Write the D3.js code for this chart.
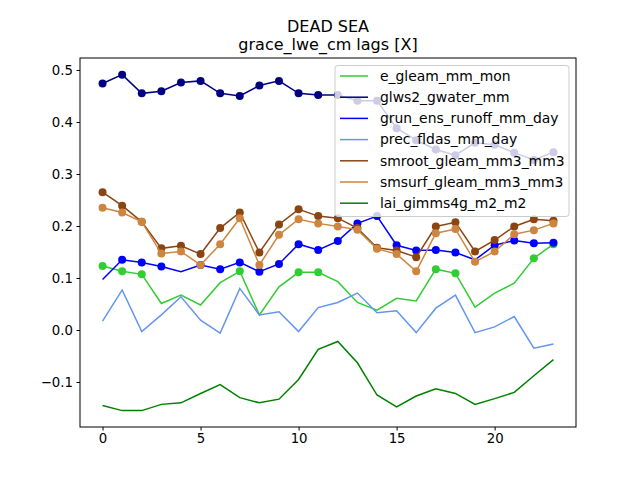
<!DOCTYPE html>
<html><head><meta charset="utf-8">
<script src="https://cdn.jsdelivr.net/npm/d3@7"></script>
<style>body{margin:0;background:#fff}text{font-family:"DejaVu Sans",sans-serif}</style>
</head><body><svg id="c" width="640" height="480"></svg>
<script>
const lags = d3.range(24);
const seriesNames = ["e_gleam_mm_mon","glws2_gwater_mm","grun_ens_runoff_mm_day","prec_fldas_mm_day","smroot_gleam_mm3_mm3","smsurf_gleam_mm3_mm3","lai_gimms4g_m2_m2"];
const colors = ["#32cd32","#000080","#0000ff","#6495ed","#8b4513","#cd853f","#008000"];
const eGleam = [.123,.113,.107,.051,.067,.048,.091,.113,.029,.083,.111,.111,.093,.053,.038,.061,.056,.117,.109,.044,.071,.090,.138,.165];
const glws2 = [.474,.491,.455,.459,.476,.479,.455,.450,.470,.479,.455,.452,.452,.441,.441,.388,.365,.347,.336,.360,.356,.341,.327,.342];
const grun = [.097,.135,.130,.122,.112,.125,.117,.130,.112,.127,.165,.154,.171,.205,.219,.163,.153,.154,.149,.135,.163,.172,.167,.168];
const prec = [.017,.077,-.003,.029,.064,.019,-.006,.080,.029,.035,-.003,.043,.053,.071,.033,.037,-.005,.042,.067,-.005,.006,.026,-.035,-.027];
const smroot = [.265,.239,.208,.157,.162,.146,.196,.226,.149,.203,.232,.219,.215,.196,.158,.153,.140,.199,.207,.151,.173,.199,.213,.210];
const smsurf = [.235,.226,.208,.147,.151,.125,.165,.215,.125,.183,.213,.205,.199,.193,.156,.146,.113,.186,.194,.131,.151,.184,.192,.205];
const lai = [-.145,-.155,-.155,-.143,-.140,-.122,-.105,-.130,-.140,-.133,-.095,-.037,-.022,-.063,-.125,-.148,-.127,-.113,-.122,-.143,-.132,-.120,-.088,-.057];
const eGleamDots = [0,1,2,7,10,11,17,18,22,23];
const glws2Dots = lags;
const grunDots = [1,2,3,5,6,7,8,9,10,11,12,13,14,15,16,17,18,20,21,22,23];
const precDots = [];
const smrootDots = lags;
const smsurfDots = lags;
const laiDots = [];
const allVals = [eGleam,glws2,grun,prec,smroot,smsurf,lai];
const allDots = [eGleamDots,glws2Dots,grunDots,precDots,smrootDots,smsurfDots,laiDots];
const xTicks = [0,5,10,15,20];
const yTicks = [-0.1,0.0,0.1,0.2,0.3,0.4,0.5];

const svg = d3.select("#c");
const L=80,R=576,T=58,B=427;
const x = d3.scaleLinear().domain([-1.15,24.15]).range([L,R]);
const y = d3.scaleLinear().domain([-0.1865,0.523]).range([B,T]);
const g = svg.append("g");
const line = d3.line().x((d,i)=>x(lags[i])).y(d=>y(d));
allVals.forEach((vals,k)=>{
  g.append("path").attr("d",line(vals)).attr("fill","none").attr("stroke",colors[k]).attr("stroke-width",1.5);
  g.selectAll(null).data(allDots[k]).enter().append("circle")
    .attr("cx",d=>x(d)).attr("cy",d=>y(vals[d])).attr("r",4).attr("fill",colors[k]);
});
const xa = svg.append("g").attr("transform",`translate(0,${B})`).call(d3.axisBottom(x).tickValues(xTicks).tickSize(3.5).tickPadding(3.5).tickFormat(d3.format("d")));
const ya = svg.append("g").attr("transform",`translate(${L},0)`).call(d3.axisLeft(y).tickValues(yTicks).tickSize(3.5).tickPadding(3.5).tickFormat(d3.format(".1f")));
[xa,ya].forEach(a=>{a.select(".domain").remove();a.selectAll("text").attr("font-size",13.3).attr("fill","#000").style("font-family","DejaVu Sans");a.selectAll("line").attr("stroke","#000");});
ya.selectAll("text").text(d=>d<0?"\u2212"+Math.abs(d).toFixed(1):d.toFixed(1));
svg.append("rect").attr("x",L).attr("y",T).attr("width",R-L).attr("height",B-T).attr("fill","none").attr("stroke","#000").attr("stroke-width",1);
svg.append("text").attr("x",328).attr("y",32).attr("text-anchor","middle").attr("font-size",16).text("DEAD SEA");
svg.append("text").attr("x",328).attr("y",50).attr("text-anchor","middle").attr("font-size",16).text("grace_lwe_cm lags [X]");
const lg = svg.append("g");
lg.append("rect").attr("x",335).attr("y",65.5).attr("width",234).attr("height",151).attr("rx",3).attr("fill","#fff").attr("fill-opacity",0.8).attr("stroke","#ccc");
seriesNames.forEach((n,i)=>{
  const yy = 76+i*21.2;
  lg.append("line").attr("x1",340).attr("x2",368).attr("y1",yy).attr("y2",yy).attr("stroke",colors[i]).attr("stroke-width",1.5);
  lg.append("text").attr("x",380).attr("y",yy+4.8).attr("font-size",13.9).text(n);
});
</script></body></html>
